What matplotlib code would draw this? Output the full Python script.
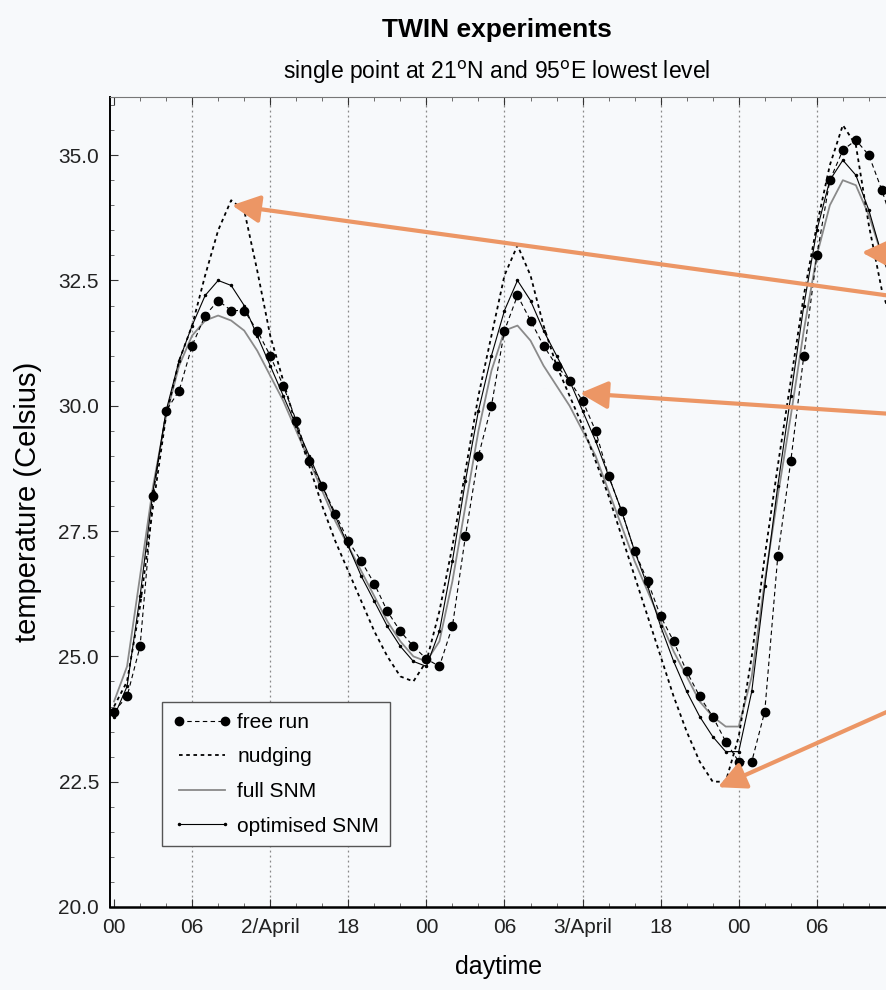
import matplotlib
matplotlib.use("Agg")
import matplotlib.pyplot as plt
from matplotlib.ticker import MultipleLocator, FixedLocator

plt.rcParams['font.family'] = ['Liberation Sans', 'DejaVu Sans']

# time in hours since 00 on 1 April
hours = list(range(0, 61))

free_run = [23.9, 24.2, 25.2, 28.2, 29.9, 30.3, 31.2, 31.8, 32.1, 31.9,
            31.9, 31.5, 31.0, 30.4, 29.7, 28.9, 28.4, 27.85, 27.3, 26.9,
            26.45, 25.9, 25.5, 25.2, 24.95, 24.8, 25.6, 27.4, 29.0, 30.0,
            31.5, 32.2, 31.7, 31.2, 30.8, 30.5, 30.1, 29.5, 28.6, 27.9,
            27.1, 26.5, 25.8, 25.3, 24.7, 24.2, 23.8, 23.3, 22.9, 22.9,
            23.9, 27.0, 28.9, 31.0, 33.0, 34.5, 35.1, 35.3, 35.0, 34.3,
            33.5]

nudging = [24.0, 24.5, 26.0, 28.0, 29.8, 30.9, 31.6, 32.6, 33.5, 34.1,
           33.9, 32.7, 31.4, 30.5, 29.6, 28.8, 28.0, 27.3, 26.7, 26.1,
           25.5, 25.0, 24.6, 24.5, 24.9, 25.9, 27.2, 28.7, 30.2, 31.4,
           32.6, 33.2, 32.6, 31.6, 30.8, 30.2, 29.6, 28.9, 28.2, 27.4,
           26.6, 25.8, 25.0, 24.2, 23.5, 22.9, 22.5, 22.5, 23.4, 25.0,
           27.0, 28.8, 30.5, 32.2, 33.6, 34.8, 35.6, 35.2, 33.6, 32.3,
           31.5]

full_snm = [24.1, 24.8, 26.6, 28.4, 29.8, 30.8, 31.4, 31.7, 31.8, 31.7,
            31.5, 31.1, 30.6, 30.1, 29.5, 28.9, 28.3, 27.7, 27.2, 26.7,
            26.2, 25.7, 25.3, 25.0, 24.9, 25.3, 26.5, 28.0, 29.5, 30.7,
            31.5, 31.6, 31.3, 30.8, 30.4, 30.0, 29.5, 29.0, 28.3, 27.6,
            26.9, 26.3, 25.7, 25.1, 24.6, 24.1, 23.8, 23.6, 23.6, 24.6,
            26.5, 28.2, 29.8, 31.5, 33.0, 34.0, 34.5, 34.4, 33.8, 33.0,
            32.4]

optimised_snm = [23.8, 24.4, 26.2, 28.3, 29.9, 30.9, 31.6, 32.2, 32.5, 32.4,
                 32.0, 31.4, 30.8, 30.2, 29.6, 29.0, 28.4, 27.8, 27.2, 26.6,
                 26.1, 25.6, 25.2, 24.9, 24.8, 25.5, 26.9, 28.5, 29.9, 31.0,
                 31.9, 32.5, 32.1, 31.5, 31.0, 30.5, 29.9, 29.3, 28.6, 27.9,
                 27.1, 26.4, 25.6, 24.9, 24.3, 23.8, 23.4, 23.1, 23.1, 24.3,
                 26.4, 28.4, 30.2, 32.0, 33.5, 34.5, 34.9, 34.6, 33.9, 33.0,
                 32.3]

tick_hours = [0, 6, 12, 18, 24, 30, 36, 42, 48, 54]
tick_labels = ['00', '06', '2/April', '18', '00', '06', '3/April', '18', '00', '06']
grid_hours = [6, 12, 18, 24, 30, 36, 42, 48, 54, 60]

series_labels = ['free run', 'nudging', 'full SNM', 'optimised SNM']

# arrows: (head time, head temp, tail time, tail temp)
arrow_heads = [(9.06, 34.0), (35.8, 30.25), (46.4, 22.39), (57.45, 33.06)]
arrow_tails = [(64.2, 32.03), (64.2, 29.76), (64.2, 24.45), (64.2, 33.0)]

bg = '#f7f9fb'
fig = plt.figure(figsize=(8.86, 9.9), dpi=100, facecolor=bg)
ax = fig.add_axes([110/886, 83/990, 863/886, 810/990], facecolor=bg)

ax.plot(hours, full_snm, color='#8a8a8a', lw=1.3, label=series_labels[2], zorder=3)
ax.plot(hours, optimised_snm, color='black', lw=0.8, marker='.', ms=3,
        label=series_labels[3], zorder=4)
ax.plot(hours, nudging, color='black', lw=1.3, ls=(0, (2, 2)), label=series_labels[1], zorder=4)
ax.plot(hours, free_run, color='black', lw=0.8, ls=(0, (4, 3)), marker='o', ms=6,
        label=series_labels[0], zorder=5)

ax.set_xlim(-0.31, 66)
ax.set_ylim(20, 36.16)

ax.xaxis.set_major_locator(FixedLocator(tick_hours))
ax.set_xticklabels(tick_labels)
ax.xaxis.set_minor_locator(MultipleLocator(2))
ax.yaxis.set_major_locator(MultipleLocator(2.5))
ax.yaxis.set_minor_locator(MultipleLocator(0.5))
ax.yaxis.set_major_formatter(matplotlib.ticker.FormatStrFormatter('%.1f'))

ax.tick_params(axis='both', which='major', labelsize=15, direction='in', length=6,
               color='#333333', pad=8)
ax.tick_params(axis='both', which='minor', direction='in', length=3, color='#555555')
ax.tick_params(axis='x', top=True, which='both')
for lab in ax.get_xticklabels() + ax.get_yticklabels():
    lab.set_color('#222222')

for t in grid_hours:
    ax.axvline(t, color='#888888', lw=0.9, ls=(0, (1.5, 2.5)), zorder=1)

ax.spines['left'].set_linewidth(1.4)
ax.spines['bottom'].set_linewidth(1.8)
ax.spines['top'].set_linewidth(0.8)
ax.spines['top'].set_color('#777777')
ax.spines['right'].set_visible(False)

ax.set_xlabel('daytime', fontsize=18)
ax.xaxis.set_label_coords((499 - 110) / 863, (990 - 955 - 83) / 810)
ax.set_ylabel('temperature (Celsius)', fontsize=21)
ax.yaxis.set_label_coords((42 - 110) / 863, (990 - 502 - 83) / 810)

fig.text(497/886, 1 - 30/990, 'TWIN experiments', ha='center', va='center',
         fontsize=19, fontweight='bold')
fig.text(497/886, 1 - 72/990, r'single point at 21$^{\mathrm{o}}$N and 95$^{\mathrm{o}}$E lowest level',
         ha='center', va='center', fontsize=16.5)

handles, labels = ax.get_legend_handles_labels()
order = [labels.index(s) for s in series_labels]
leg = ax.legend([handles[i] for i in order], [labels[i] for i in order],
                loc='upper left', bbox_to_anchor=(152/886, 1 - 692/990),
                bbox_transform=fig.transFigure, fontsize=15, frameon=True,
                fancybox=False, edgecolor='#555555', facecolor=bg, framealpha=1,
                handlelength=2.8, handletextpad=0.3, labelspacing=0.75,
                borderpad=0.5, numpoints=2)
leg.get_frame().set_linewidth(1.0)

for (hx, hy), (tx, ty) in zip(arrow_heads, arrow_tails):
    ax.annotate('', xy=(hx, hy), xytext=(tx, ty), annotation_clip=False,
                arrowprops=dict(arrowstyle='-|>,head_length=1.2,head_width=0.6',
                                color='#ec9665', lw=3, mutation_scale=14,
                                shrinkA=0, shrinkB=0), zorder=6)

fig.savefig('out.png', dpi=100, facecolor=bg)
